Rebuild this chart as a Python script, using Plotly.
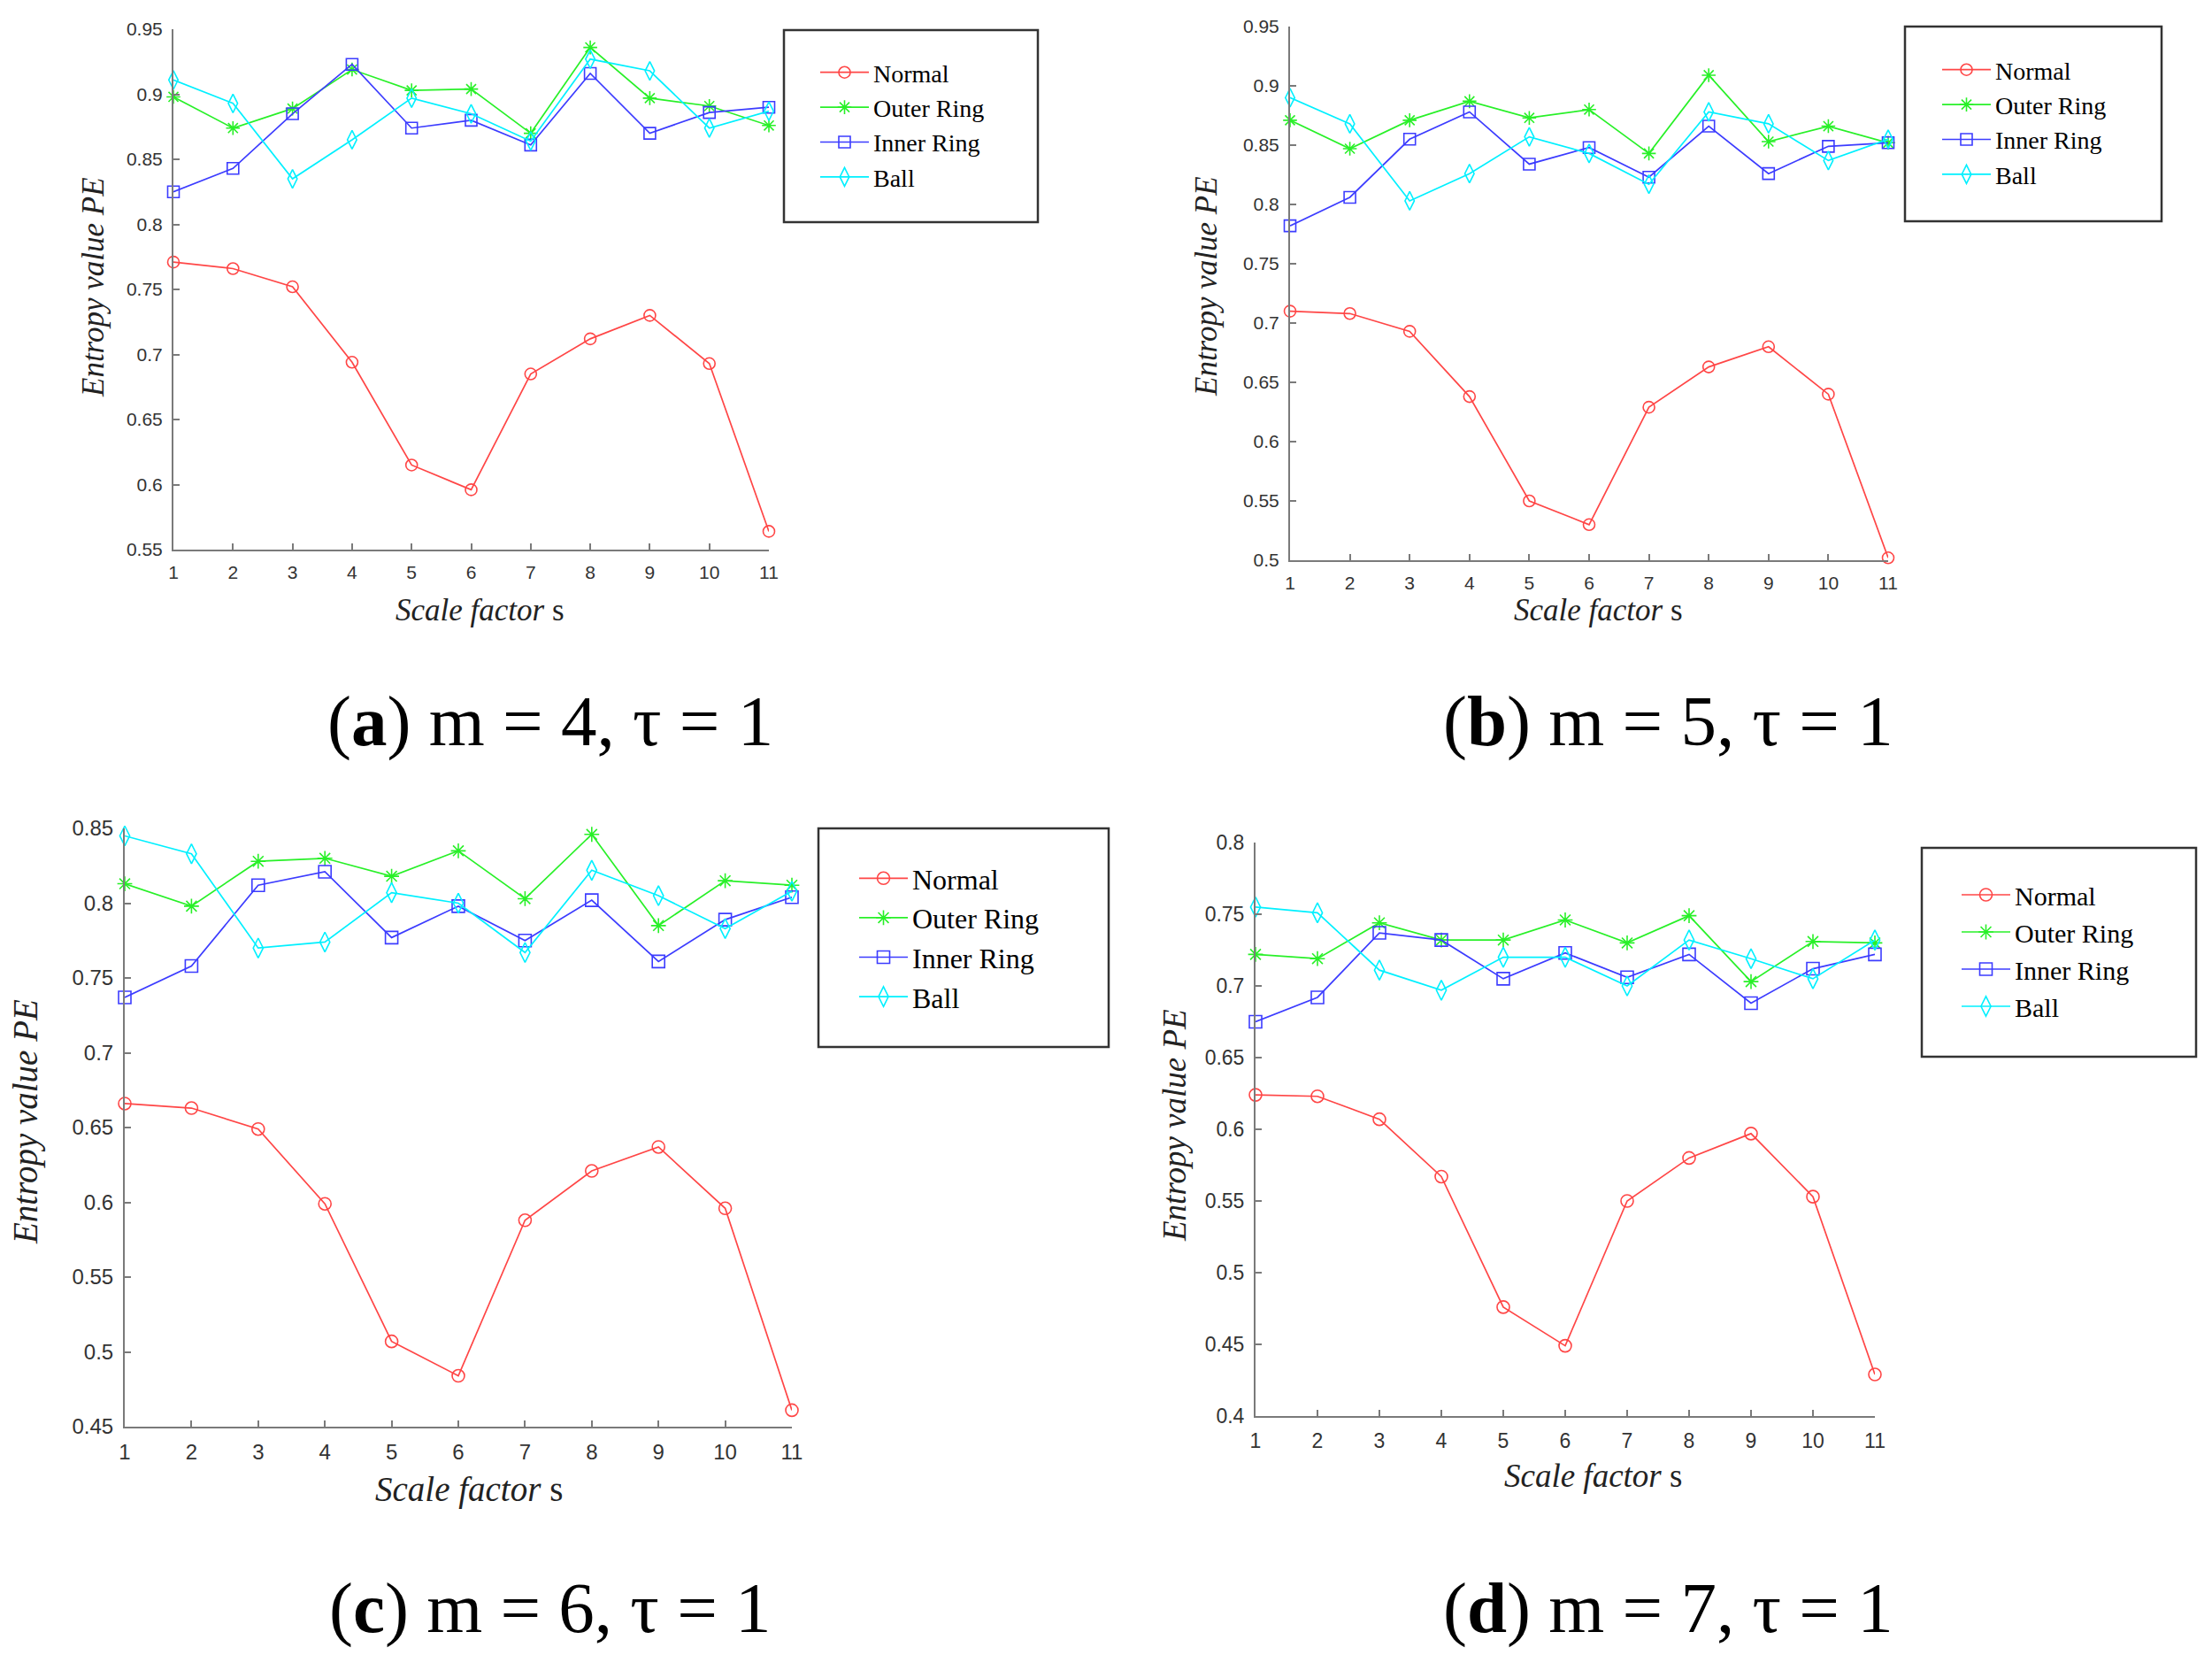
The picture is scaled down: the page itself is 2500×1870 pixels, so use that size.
import plotly.graph_objects as go

W, H = 2500, 1870

# ---------------- data ----------------
scale_s = list(range(1, 12))
series_names = ["Normal", "Outer Ring", "Inner Ring", "Ball"]
x_tick_labels = [str(v) for v in scale_s]

# (a) m = 4
normal_a = [0.771, 0.766, 0.752, 0.694, 0.615, 0.596, 0.685, 0.712, 0.730, 0.693, 0.564]
outer_a  = [0.898, 0.874, 0.889, 0.919, 0.903, 0.904, 0.870, 0.936, 0.897, 0.891, 0.876]
inner_a  = [0.825, 0.843, 0.885, 0.923, 0.874, 0.880, 0.861, 0.916, 0.870, 0.886, 0.890]
ball_a   = [0.911, 0.893, 0.835, 0.865, 0.897, 0.885, 0.864, 0.927, 0.918, 0.874, 0.887]

# (b) m = 5
normal_b = [0.710, 0.708, 0.693, 0.638, 0.550, 0.530, 0.629, 0.663, 0.680, 0.640, 0.502]
outer_b  = [0.871, 0.847, 0.871, 0.887, 0.873, 0.880, 0.843, 0.909, 0.853, 0.866, 0.852]
inner_b  = [0.782, 0.806, 0.855, 0.878, 0.834, 0.848, 0.823, 0.866, 0.826, 0.849, 0.852]
ball_b   = [0.890, 0.868, 0.803, 0.826, 0.857, 0.843, 0.817, 0.878, 0.868, 0.837, 0.855]

# (c) m = 6
normal_c = [0.666, 0.663, 0.649, 0.599, 0.507, 0.484, 0.588, 0.621, 0.637, 0.596, 0.461]
outer_c  = [0.813, 0.798, 0.828, 0.830, 0.818, 0.835, 0.803, 0.846, 0.785, 0.815, 0.812]
inner_c  = [0.737, 0.758, 0.812, 0.821, 0.777, 0.798, 0.775, 0.802, 0.761, 0.789, 0.804]
ball_c   = [0.845, 0.833, 0.770, 0.774, 0.807, 0.800, 0.767, 0.822, 0.805, 0.783, 0.808]

# (d) m = 7
normal_d = [0.624, 0.623, 0.607, 0.567, 0.476, 0.449, 0.550, 0.580, 0.597, 0.553, 0.429]
outer_d  = [0.722, 0.719, 0.744, 0.732, 0.732, 0.746, 0.730, 0.749, 0.703, 0.731, 0.730]
inner_d  = [0.675, 0.692, 0.737, 0.732, 0.705, 0.723, 0.706, 0.722, 0.688, 0.712, 0.722]
ball_d   = [0.755, 0.751, 0.711, 0.697, 0.720, 0.720, 0.700, 0.732, 0.719, 0.705, 0.732]

# y tick values / labels per panel
yticks_a = [0.55, 0.6, 0.65, 0.7, 0.75, 0.8, 0.85, 0.9, 0.95]
ytext_a = ["0.55", "0.6", "0.65", "0.7", "0.75", "0.8", "0.85", "0.9", "0.95"]
yticks_b = [0.5, 0.55, 0.6, 0.65, 0.7, 0.75, 0.8, 0.85, 0.9, 0.95]
ytext_b = ["0.5", "0.55", "0.6", "0.65", "0.7", "0.75", "0.8", "0.85", "0.9", "0.95"]
yticks_c = [0.45, 0.5, 0.55, 0.6, 0.65, 0.7, 0.75, 0.8, 0.85]
ytext_c = ["0.45", "0.5", "0.55", "0.6", "0.65", "0.7", "0.75", "0.8", "0.85"]
yticks_d = [0.4, 0.45, 0.5, 0.55, 0.6, 0.65, 0.7, 0.75, 0.8]
ytext_d = ["0.4", "0.45", "0.5", "0.55", "0.6", "0.65", "0.7", "0.75", "0.8"]

captions = ["(<b>a</b>) m = 4, τ = 1", "(<b>b</b>) m = 5, τ = 1",
            "(<b>c</b>) m = 6, τ = 1", "(<b>d</b>) m = 7, τ = 1"]

# ---------------- styling ----------------
colors = ["rgb(255,70,70)", "rgb(40,240,40)", "rgb(60,60,255)", "rgb(0,240,255)"]
symbols = ["circle-open", "asterisk-open", "square-open", "diamond-tall-open"]
TICK_FONT = "Liberation Sans Narrow, Liberation Sans, Arial, sans-serif"
SERIF = "Liberation Serif, Times New Roman, serif"
AXIS_GRAY = "#7a7a7a"

panels = [
    dict(data=[normal_a, outer_a, inner_a, ball_a], yr=[0.55, 0.95], yt=yticks_a, ytt=ytext_a,
         px=[196, 869], py=[33, 621], tick=21, msize=13,
         leg=dict(box=[886, 34, 1173, 251], left=922, top=57, font=28),
         ytitle=dict(x=105, y=325, size=35), xtitle=dict(x=542, y=690, size=35),
         cap=dict(x=622, y=815)),
    dict(data=[normal_b, outer_b, inner_b, ball_b], yr=[0.5, 0.95], yt=yticks_b, ytt=ytext_b,
         px=[1458, 2134], py=[30, 633], tick=21, msize=13,
         leg=dict(box=[2153, 30, 2443, 250], left=2190, top=54, font=28),
         ytitle=dict(x=1364, y=324, size=35), xtitle=dict(x=1806, y=690, size=35),
         cap=dict(x=1885, y=815)),
    dict(data=[normal_c, outer_c, inner_c, ball_c], yr=[0.45, 0.85], yt=yticks_c, ytt=ytext_c,
         px=[141, 895], py=[936, 1612], tick=24, msize=14,
         leg=dict(box=[925, 936, 1253, 1183], left=966, top=965, font=32),
         ytitle=dict(x=29, y=1268, size=39), xtitle=dict(x=530, y=1683, size=39),
         cap=dict(x=622, y=1817)),
    dict(data=[normal_d, outer_d, inner_d, ball_d], yr=[0.4, 0.8], yt=yticks_d, ytt=ytext_d,
         px=[1419, 2119], py=[952, 1600], tick=23, msize=14,
         leg=dict(box=[2172, 958, 2482, 1194], left=2212, top=985, font=30),
         ytitle=dict(x=1327, y=1272, size=37), xtitle=dict(x=1800, y=1667, size=37),
         cap=dict(x=1885, y=1817)),
]

fig = go.Figure()
layout = dict(width=W, height=H, margin=dict(l=0, r=0, t=0, b=0, autoexpand=False),
              paper_bgcolor="white", plot_bgcolor="white", showlegend=True)
annotations = []
shapes = []

for i, p in enumerate(panels):
    n = "" if i == 0 else str(i + 1)
    xa, ya = "x" + n, "y" + n
    legname = "legend" + n
    for k, (name, vals) in enumerate(zip(series_names, p["data"])):
        fig.add_trace(go.Scatter(
            x=scale_s, y=vals, name=name, mode="lines+markers",
            xaxis=xa, yaxis=ya, legend=legname, cliponaxis=False,
            line=dict(color=colors[k], width=1.7),
            marker=dict(symbol=symbols[k], size=p["msize"] if k != 3 else p["msize"] + 2,
                        color=colors[k], line=dict(color=colors[k], width=1.6)),
        ))
    layout["xaxis" + n] = dict(
        domain=[p["px"][0] / W, p["px"][1] / W], anchor=ya, range=[1, 11],
        tickvals=scale_s, ticktext=x_tick_labels, ticks="inside", ticklen=7,
        tickcolor=AXIS_GRAY, tickwidth=1.5, showline=True, linecolor=AXIS_GRAY, linewidth=2,
        showgrid=False, zeroline=False, ticklabelstandoff=6, automargin=False,
        tickfont=dict(family=TICK_FONT, size=p["tick"], color="#333333"))
    layout["yaxis" + n] = dict(
        domain=[1 - p["py"][1] / H, 1 - p["py"][0] / H], anchor=xa, range=p["yr"],
        tickvals=p["yt"], ticktext=p["ytt"], ticks="inside", ticklen=7,
        tickcolor=AXIS_GRAY, tickwidth=1.5, showline=True, linecolor=AXIS_GRAY, linewidth=2,
        showgrid=False, zeroline=False, ticklabelstandoff=6, automargin=False,
        tickfont=dict(family=TICK_FONT, size=p["tick"], color="#333333"))
    lg = p["leg"]
    layout[legname] = dict(
        x=lg["left"] / W, y=1 - lg["top"] / H, xanchor="left", yanchor="top",
        bgcolor="rgba(0,0,0,0)", borderwidth=0, itemwidth=55, tracegroupgap=0,
        font=dict(family=SERIF, size=lg["font"], color="black"))
    b = lg["box"]
    shapes.append(dict(type="rect", xref="paper", yref="paper",
                       x0=b[0] / W, x1=b[2] / W, y0=1 - b[3] / H, y1=1 - b[1] / H,
                       line=dict(color="#333333", width=2.5), fillcolor="rgba(0,0,0,0)"))
    t = p["ytitle"]
    annotations.append(dict(text="<i>Entropy value PE</i>", xref="paper", yref="paper",
                            x=t["x"] / W, y=1 - t["y"] / H, textangle=-90, showarrow=False,
                            xanchor="center", yanchor="middle",
                            font=dict(family=SERIF, size=t["size"], color="#222222")))
    t = p["xtitle"]
    annotations.append(dict(text="<i>Scale factor</i> s", xref="paper", yref="paper",
                            x=t["x"] / W, y=1 - t["y"] / H, showarrow=False,
                            xanchor="center", yanchor="middle",
                            font=dict(family=SERIF, size=t["size"], color="#222222")))
    c = p["cap"]
    annotations.append(dict(text=captions[i], xref="paper", yref="paper",
                            x=c["x"] / W, y=1 - c["y"] / H, showarrow=False,
                            xanchor="center", yanchor="middle",
                            font=dict(family=SERIF, size=81, color="black")))

layout["annotations"] = annotations
layout["shapes"] = shapes
fig.update_layout(**layout)
fig.write_html("out.html",
               config={"displayModeBar": False},
               post_script="document.body.style.margin='0px';"
                           "document.documentElement.style.overflow='hidden';")
